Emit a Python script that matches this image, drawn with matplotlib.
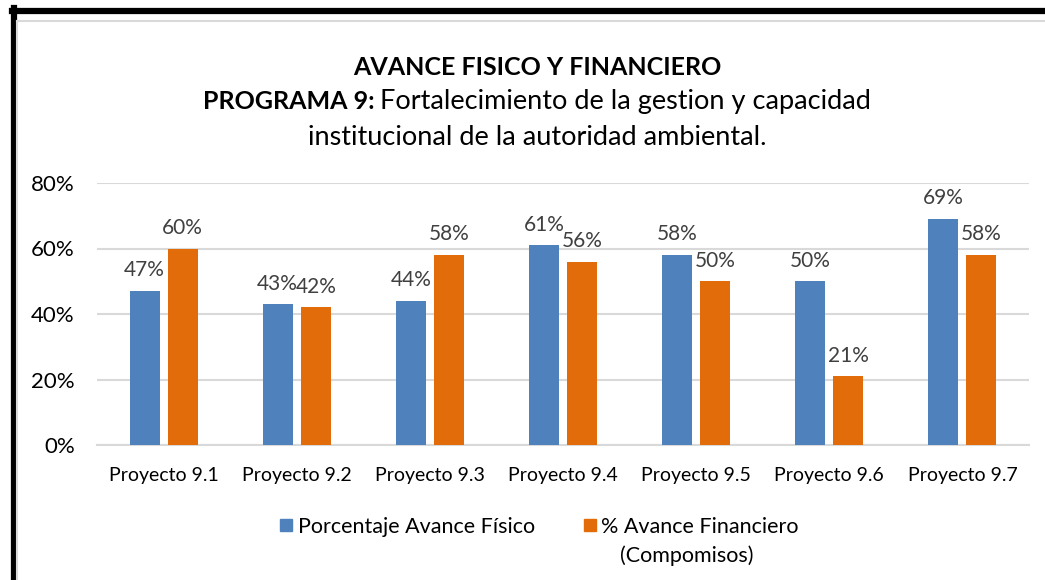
import matplotlib
matplotlib.use('Agg')
import matplotlib.pyplot as plt
from matplotlib.patches import Rectangle
from matplotlib.lines import Line2D
import numpy as np

plt.rcParams['font.family'] = ['Lato', 'DejaVu Sans']

# datos
proyectos = ['Proyecto 9.1', 'Proyecto 9.2', 'Proyecto 9.3', 'Proyecto 9.4',
             'Proyecto 9.5', 'Proyecto 9.6', 'Proyecto 9.7']
avance_fisico = [0.47, 0.43, 0.44, 0.61, 0.58, 0.50, 0.69]
avance_financiero = [0.60, 0.42, 0.58, 0.56, 0.50, 0.21, 0.58]
serie_nombres = ['Porcentaje Avance Físico', '% Avance Financiero', '(Compomisos)']
yticks = [0, 0.2, 0.4, 0.6, 0.8]

azul = '#4F81BD'
naranja = '#E36C0A'
gris = '#D9D9D9'

W, H = 1045, 580
fig = plt.figure(figsize=(W / 100, H / 100), dpi=100)


def fx(px):
    return px / W


def fy(py):
    return 1 - py / H


# marco negro y borde gris del area del grafico
fig.add_artist(Line2D([fx(14), fx(14)], [fy(8), 0], color='black', lw=4.5))
fig.add_artist(Line2D([fx(12), 1], [fy(11), fy(11)], color='black', lw=4.5))
fig.add_artist(Line2D([fx(17), 1], [fy(21), fy(21)], color=gris, lw=1.5))
fig.add_artist(Line2D([fx(17), fx(17)], [fy(21), 0], color=gris, lw=1.5))

ax = fig.add_axes([fx(97), fy(445), fx(1029) - fx(97), fy(183) - fy(445)])

x = np.arange(len(proyectos))
ancho = 0.225
off = 0.143
b1 = ax.bar(x - off, avance_fisico, ancho, color=azul, zorder=3)
b2 = ax.bar(x + off, avance_financiero, ancho, color=naranja, zorder=3)

for barras, vals in [(b1, avance_fisico), (b2, avance_financiero)]:
    for b, v in zip(barras, vals):
        ax.annotate(f'{v:.0%}', (b.get_x() + b.get_width() / 2, v),
                    xytext=(0, 10.5), textcoords='offset points',
                    ha='center', va='baseline', fontsize=15, color='#404040')

ax.set_xlim(-0.5, len(proyectos) - 0.5)
ax.set_ylim(0, 0.8)
ax.set_yticks(yticks)
ax.set_yticklabels([f'{t:.0%}' for t in yticks])
ax.set_xticks(x)
ax.set_xticklabels(proyectos)
ax.tick_params(axis='y', length=0, pad=16, labelsize=16)
ax.tick_params(axis='x', length=0, pad=16, labelsize=14)
ax.grid(axis='y', color=gris, lw=1.5, zorder=0)
for s in ['top', 'right', 'left']:
    ax.spines[s].set_visible(False)
ax.spines['bottom'].set_color(gris)
ax.spines['bottom'].set_linewidth(1.5)

# titulo
cx = fx(537)
fig.text(cx, fy(75), 'AVANCE FISICO Y FINANCIERO', ha='center', va='baseline',
         fontsize=18, fontweight='bold')
t_a = fig.text(0, fy(109), 'PROGRAMA 9: ', ha='left', va='baseline',
               fontsize=18, fontweight='bold')
t_b = fig.text(0, fy(109), 'Fortalecimiento de la gestion y capacidad',
               ha='left', va='baseline', fontsize=19.5)
fig.text(cx, fy(145), 'institucional de la autoridad ambiental.',
         ha='center', va='baseline', fontsize=19.5)
fig.canvas.draw()
r = fig.canvas.get_renderer()
wa = t_a.get_window_extent(r).width
wb = t_b.get_window_extent(r).width
x0 = 537 - (wa + wb) / 2
t_a.set_x(fx(x0))
t_b.set_x(fx(x0 + wa))

# leyenda
fig.add_artist(Rectangle((fx(280), fy(531)), fx(12), 12 / H, color=azul))
fig.text(fx(298), fy(533), serie_nombres[0], ha='left', va='baseline', fontsize=15.5)
fig.add_artist(Rectangle((fx(584), fy(531)), fx(12), 12 / H, color=naranja))
fig.text(fx(601), fy(533), serie_nombres[1], ha='left', va='baseline', fontsize=15.5)
fig.text(fx(620), fy(562), serie_nombres[2], ha='left', va='baseline', fontsize=15.5)

fig.savefig('out.png', dpi=100, facecolor='white')
